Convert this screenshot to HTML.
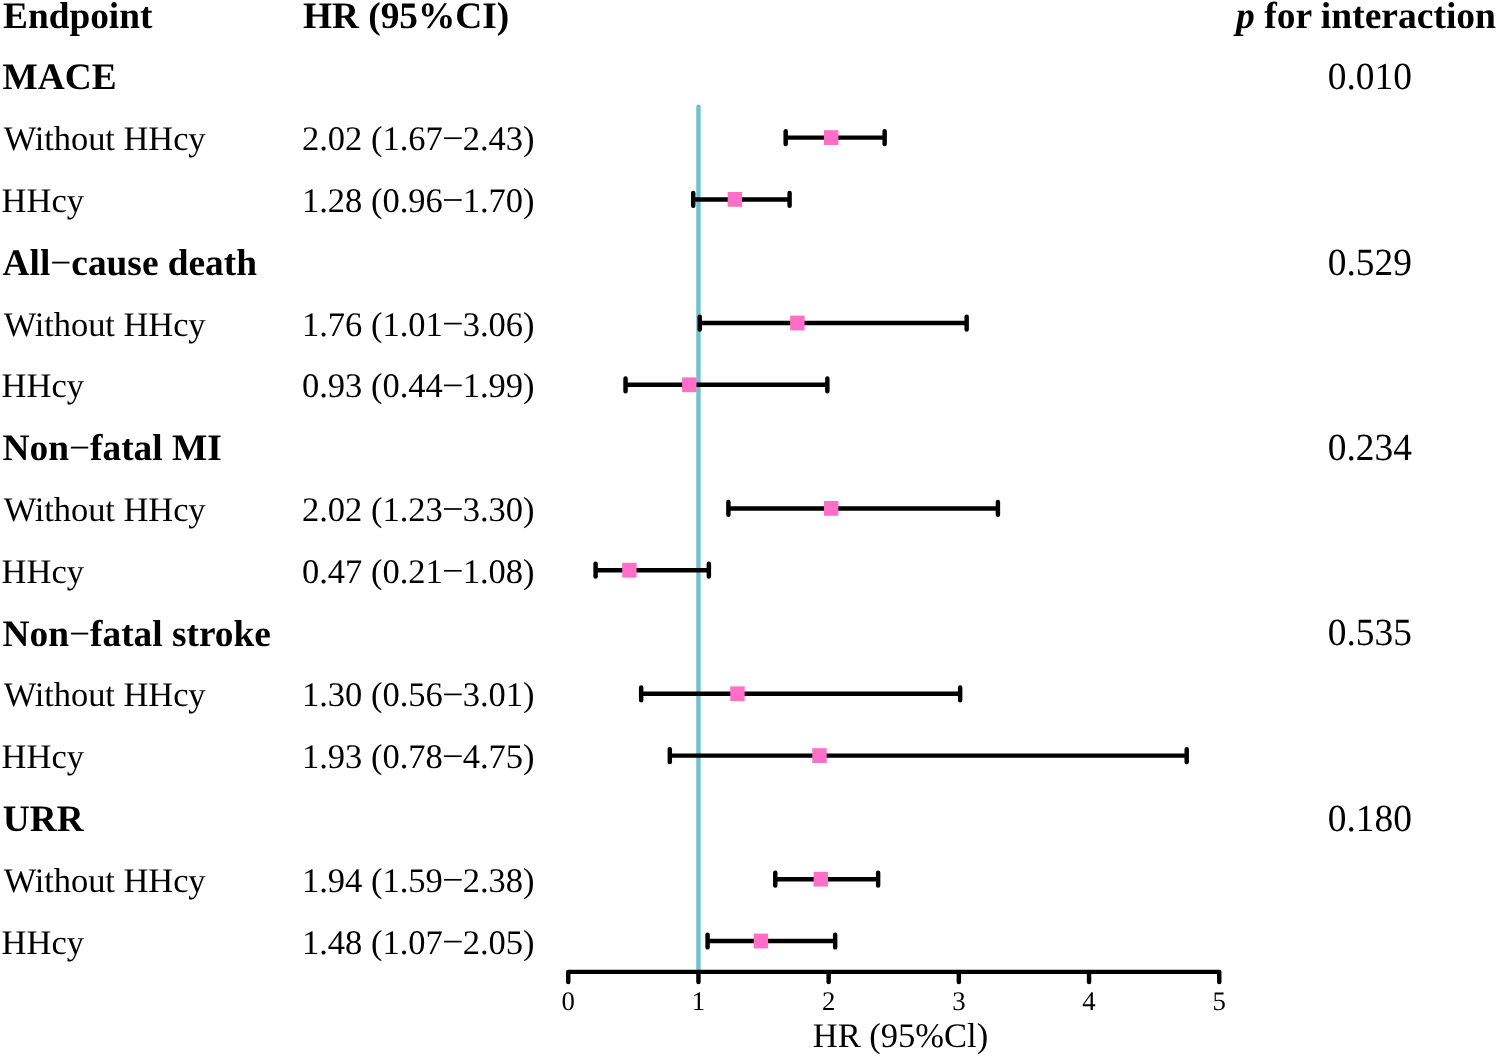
<!DOCTYPE html>
<html><head><meta charset="utf-8"><title>Forest plot</title>
<style>
html,body{margin:0;padding:0;background:#fff;}
body{width:1499px;height:1058px;overflow:hidden;}
svg{display:block;will-change:transform;}
text{font-family:"Liberation Serif",serif;fill:#000;text-rendering:geometricPrecision;}
.t{font-size:34.50px;}
.e{text-anchor:end;}
.b{font-weight:bold;font-size:37.35px;}
.p{font-size:38.40px;text-anchor:middle;}
.i{font-style:italic;}
.n{font-weight:normal;}
.k{font-size:26.8px;text-anchor:middle;}
.ln{stroke:#000;stroke-width:4.45;stroke-linecap:round;stroke-linejoin:round;fill:none;}
</style></head><body>
<svg width="1499" height="1058" viewBox="0 0 1499 1058">
<rect width="1499" height="1058" fill="#fff"/>
<line x1="698.45" y1="106.6" x2="698.45" y2="971.85" stroke="#70c1cc" stroke-width="4.4" stroke-linecap="round"/>
<path class="ln" d="M785.68 137.60H884.64M785.68 131.20v12.8M884.64 131.20v12.8"/>
<path class="ln" d="M693.24 199.40H789.59M693.24 193.00v12.8M789.59 193.00v12.8"/>
<path class="ln" d="M699.75 323.00H966.66M699.75 316.60v12.8M966.66 316.60v12.8"/>
<path class="ln" d="M625.54 384.80H827.35M625.54 378.40v12.8M827.35 378.40v12.8"/>
<path class="ln" d="M728.40 508.40H997.91M728.40 502.00v12.8M997.91 502.00v12.8"/>
<path class="ln" d="M595.59 570.20H708.87M595.59 563.80v12.8M708.87 563.80v12.8"/>
<path class="ln" d="M641.16 693.80H960.15M641.16 687.40v12.8M960.15 687.40v12.8"/>
<path class="ln" d="M669.81 755.60H1186.70M669.81 749.20v12.8M1186.70 749.20v12.8"/>
<path class="ln" d="M775.27 879.20H878.13M775.27 872.80v12.8M878.13 872.80v12.8"/>
<path class="ln" d="M707.56 941.00H835.16M707.56 934.60v12.8M835.16 934.60v12.8"/>
<rect x="824.00" y="130.20" width="14.4" height="14.8" fill="#ff6ec7"/>
<rect x="727.66" y="192.00" width="14.4" height="14.8" fill="#ff6ec7"/>
<rect x="790.15" y="315.60" width="14.4" height="14.8" fill="#ff6ec7"/>
<rect x="682.09" y="377.40" width="14.4" height="14.8" fill="#ff6ec7"/>
<rect x="824.00" y="501.00" width="14.4" height="14.8" fill="#ff6ec7"/>
<rect x="622.19" y="562.80" width="14.4" height="14.8" fill="#ff6ec7"/>
<rect x="730.26" y="686.40" width="14.4" height="14.8" fill="#ff6ec7"/>
<rect x="812.29" y="748.20" width="14.4" height="14.8" fill="#ff6ec7"/>
<rect x="813.59" y="871.80" width="14.4" height="14.8" fill="#ff6ec7"/>
<rect x="753.70" y="933.60" width="14.4" height="14.8" fill="#ff6ec7"/>
<path class="ln" d="M568.25 982.05V971.85H1219.25V982.05M698.45 971.85v10.2M828.65 971.85v10.2M958.85 971.85v10.2M1089.05 971.85v10.2"/>
<text class="k" x="568.25" y="1009.7">0</text>
<text class="k" x="698.45" y="1009.7">1</text>
<text class="k" x="828.65" y="1009.7">2</text>
<text class="k" x="958.85" y="1009.7">3</text>
<text class="k" x="1089.05" y="1009.7">4</text>
<text class="k" x="1219.25" y="1009.7">5</text>
<text class="t" text-anchor="middle" x="900.5" y="1046.7">HR (95%Cl)</text>
<text class="t b" x="3.0" y="27.50">Endpoint</text>
<text class="t b" x="302.9" y="27.50">HR (95%CI)</text>
<text class="t b" x="2.5" y="89.30">MACE</text>
<text class="p" transform="translate(1369.8 89.15) scale(0.975 1)">0.010</text>
<text class="t" style="letter-spacing:-0.07px" x="3.7" y="150.10">Without HHcy</text>
<text class="t" x="301.9" y="150.10">2.02 (1.67</text>
<text class="t e" x="534.6" y="150.10">2.43)</text>
<rect x="444" y="137.35" width="17.7" height="1.7"/>
<text class="t" x="1.6" y="211.90">HHcy</text>
<text class="t" x="301.9" y="211.90">1.28 (0.96</text>
<text class="t e" x="534.6" y="211.90">1.70)</text>
<rect x="444" y="199.15" width="17.7" height="1.7"/>
<text class="t b" x="2.6" y="274.70">All<tspan class="n">−</tspan>cause death</text>
<text class="p" transform="translate(1369.8 274.55) scale(0.975 1)">0.529</text>
<text class="t" style="letter-spacing:-0.07px" x="3.7" y="335.50">Without HHcy</text>
<text class="t" x="301.9" y="335.50">1.76 (1.01</text>
<text class="t e" x="534.6" y="335.50">3.06)</text>
<rect x="444" y="322.75" width="17.7" height="1.7"/>
<text class="t" x="1.6" y="397.30">HHcy</text>
<text class="t" x="301.9" y="397.30">0.93 (0.44</text>
<text class="t e" x="534.6" y="397.30">1.99)</text>
<rect x="444" y="384.55" width="17.7" height="1.7"/>
<text class="t b" x="2.6" y="460.10">Non<tspan class="n">−</tspan>fatal MI</text>
<text class="p" transform="translate(1369.8 459.95) scale(0.975 1)">0.234</text>
<text class="t" style="letter-spacing:-0.07px" x="3.7" y="520.90">Without HHcy</text>
<text class="t" x="301.9" y="520.90">2.02 (1.23</text>
<text class="t e" x="534.6" y="520.90">3.30)</text>
<rect x="444" y="508.15" width="17.7" height="1.7"/>
<text class="t" x="1.6" y="582.70">HHcy</text>
<text class="t" x="301.9" y="582.70">0.47 (0.21</text>
<text class="t e" x="534.6" y="582.70">1.08)</text>
<rect x="444" y="569.95" width="17.7" height="1.7"/>
<text class="t b" x="2.6" y="645.50">Non<tspan class="n">−</tspan>fatal stroke</text>
<text class="p" transform="translate(1369.8 645.35) scale(0.975 1)">0.535</text>
<text class="t" style="letter-spacing:-0.07px" x="3.7" y="706.30">Without HHcy</text>
<text class="t" x="301.9" y="706.30">1.30 (0.56</text>
<text class="t e" x="534.6" y="706.30">3.01)</text>
<rect x="444" y="693.55" width="17.7" height="1.7"/>
<text class="t" x="1.6" y="768.10">HHcy</text>
<text class="t" x="301.9" y="768.10">1.93 (0.78</text>
<text class="t e" x="534.6" y="768.10">4.75)</text>
<rect x="444" y="755.35" width="17.7" height="1.7"/>
<text class="t b" x="2.8" y="830.90">URR</text>
<text class="p" transform="translate(1369.8 830.75) scale(0.975 1)">0.180</text>
<text class="t" style="letter-spacing:-0.07px" x="3.7" y="891.70">Without HHcy</text>
<text class="t" x="301.9" y="891.70">1.94 (1.59</text>
<text class="t e" x="534.6" y="891.70">2.38)</text>
<rect x="444" y="878.95" width="17.7" height="1.7"/>
<text class="t" x="1.6" y="953.50">HHcy</text>
<text class="t" x="301.9" y="953.50">1.48 (1.07</text>
<text class="t e" x="534.6" y="953.50">2.05)</text>
<rect x="444" y="940.75" width="17.7" height="1.7"/>
<text class="t b e" style="font-size:37.55px" x="1496" y="27.50"><tspan class="i">p</tspan> for interaction</text>
</svg>
</body></html>
